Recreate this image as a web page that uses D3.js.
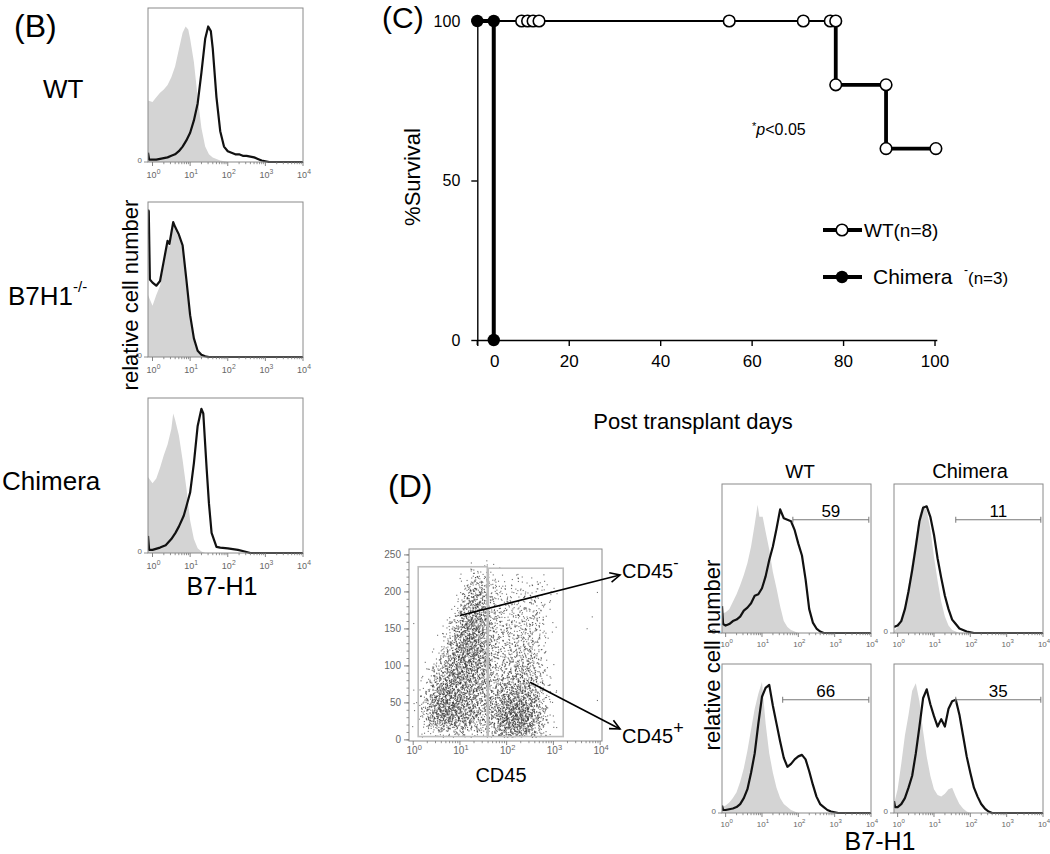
<!DOCTYPE html>
<html><head><meta charset="utf-8">
<script src="https://cdn.jsdelivr.net/npm/d3@7"></script>
<style>body{margin:0;background:#fff}svg{display:block}</style>
</head><body>
<svg id="c" width="1050" height="854"></svg>
<script>
// ================= DATA =================
// Panel B histograms: [log10 B7-H1 fluorescence, % of max count]
const bWtCtrl  = [[-0.12,40],[0,39],[0.1,42],[0.2,45],[0.3,47],[0.4,50],[0.5,55],[0.6,62],[0.7,73],[0.8,84],[0.88,88],[0.95,86],[1.0,80],[1.1,65],[1.2,42],[1.3,22],[1.4,10],[1.5,5],[1.6,3],[1.7,2],[1.8,1],[1.9,0.5],[2.0,0],[4.0,0]];
const bWtStain = [[-0.12,6],[-0.09,1.5],[0,1.5],[0.1,1.5],[0.2,2],[0.3,2.5],[0.4,3],[0.5,4],[0.6,5],[0.7,7],[0.8,10],[0.9,14],[1.0,19],[1.1,27],[1.2,38],[1.3,58],[1.4,80],[1.48,88],[1.55,85],[1.6,74],[1.7,42],[1.8,20],[1.9,10],[2.0,7],[2.1,6],[2.2,5],[2.3,5],[2.4,4],[2.5,4],[2.6,3.5],[2.7,3],[2.8,2],[2.9,1],[3.0,0.5],[3.1,0],[4.0,0]];
const bKoCtrl  = [[-0.12,40],[-0.05,36],[0,33],[0.1,40],[0.2,46],[0.3,60],[0.4,73],[0.45,71],[0.5,78],[0.55,85],[0.6,82],[0.7,77],[0.8,70],[0.9,48],[1.0,25],[1.1,10],[1.2,3],[1.3,1],[1.4,0],[4.0,0]];
const bKoStain = [[-0.12,95],[-0.1,94],[-0.07,50],[0,48],[0.1,46],[0.2,49],[0.3,62],[0.4,75],[0.45,73],[0.5,80],[0.55,87],[0.6,84],[0.7,79],[0.8,72],[0.9,50],[1.0,27],[1.1,12],[1.2,4],[1.3,1.5],[1.4,0.5],[1.5,0],[4.0,0]];
const bChCtrl  = [[-0.12,49],[0,45],[0.1,48],[0.2,55],[0.3,63],[0.4,70],[0.5,80],[0.55,90],[0.6,86],[0.7,76],[0.8,60],[0.9,42],[1.0,21],[1.1,9],[1.2,3],[1.3,1],[1.4,0],[4.0,0]];
const bChStain = [[-0.12,11],[-0.09,2],[0,2],[0.2,3.5],[0.35,5],[0.5,9],[0.61,13],[0.7,17],[0.83,24],[0.9,30],[1.0,39],[1.1,58],[1.2,82],[1.3,93],[1.35,90],[1.44,54],[1.5,32],[1.57,13],[1.7,4],[1.8,3.5],[2.0,3],[2.27,2],[2.45,1],[2.6,0],[4.0,0]];
const bRowLabels = ["WT", "B7H1", "Chimera"];

// Panel C: Kaplan-Meier survival (day, % survival)
const wtSteps      = [[0,100],[78.4,100],[78.4,80],[89.4,80],[89.4,60],[100.3,60]];
const wtMarks      = [[9.7,100],[11,100],[12.2,100],[13.5,100],[55.1,100],[71.3,100],[77.2,100],[78.4,100],[78.4,80],[89.4,80],[89.4,60],[100.3,60]];
const chimeraSteps = [[0,100],[3.6,100],[3.6,0]];
const chimeraMarks = [[0,100],[3.6,100],[3.6,0]];
const survXTicks = [0,20,40,60,80,100];
const survYTicks = [0,50,100];

// Panel D: CD45 vs SSC density (dots per cell), rows = SSC bins (top first), cols = log10 CD45 bins
const scatterCols = [0,0.2,0.4,0.6,0.8,1.0,1.2,1.4,1.6,1.8,2.0,2.2,2.4,2.6,2.8,3.0,3.2];
const scatterRows = [220,200,180,160,140,120,100,80,60,40,20,0];
const scatterDensity = [
 [0,0,0,0,0,0,2,2,1,0,0,0,0,0,0,0,0],
 [0,0,0,0,0,3,10,10,4,2,2,2,2,2,1,0,0],
 [0,0,0,0,0,8,18,16,6,4,3,4,4,3,1,0,0],
 [0,0,0,0,4,18,22,18,7,5,5,5,6,4,1,0,0],
 [0,0,0,2,10,22,24,18,8,6,6,6,7,4,1,0,0],
 [0,0,0,5,16,24,24,18,8,6,6,8,8,4,0,0,0],
 [0,0,3,12,20,24,22,18,8,7,8,10,10,4,0,0,0],
 [0,2,8,18,22,22,20,16,8,8,10,14,12,5,1,0,0],
 [0,5,16,22,22,20,18,14,10,14,16,18,14,7,2,0,0],
 [1,10,24,28,24,20,16,12,12,20,24,24,20,10,2,0,0],
 [1,10,22,26,24,20,16,12,14,26,30,30,24,12,2,0,0],
 [0,2,4,6,6,6,5,4,8,16,20,20,14,6,1,0,0]
];
const scatterOutliers = [[3.93,200],[3.82,167],[3.71,151],[3.93,54],[0.0,158],[0.0,68]];
const gateNeg = [0.107, 1.585, 4.5, 234];   // log x0, log x1, y0, y1
const gatePos = [1.606, 3.21, 4.5, 232];
const scatterYTicks = [0,50,100,150,200,250];

// Panel D histograms
const dWtNegCtrl  = [[-0.1,13],[0,14],[0.1,16],[0.2,21],[0.3,26],[0.4,32],[0.5,39],[0.6,47],[0.7,58],[0.8,73],[0.88,86],[0.93,78],[1.02,78],[1.1,68],[1.2,56],[1.3,41],[1.4,30],[1.5,18],[1.6,8],[1.7,4],[1.8,2],[1.9,1],[2.0,0],[4.0,0]];
const dWtNegStain = [[-0.1,18],[-0.07,6],[0,5],[0.1,6],[0.2,8],[0.3,9],[0.4,11],[0.5,15],[0.6,17],[0.7,20],[0.8,25],[0.9,26],[1.0,30],[1.1,38],[1.2,49],[1.3,58],[1.4,70],[1.5,83],[1.6,77],[1.7,76],[1.8,75],[1.9,69],[2.0,60],[2.1,52],[2.2,36],[2.3,16],[2.4,7],[2.5,3],[2.6,1],[2.7,0],[4.0,0]];
const dChNegCtrl  = [[-0.1,1],[0,4],[0.1,9],[0.2,18],[0.3,32],[0.4,48],[0.5,64],[0.6,79],[0.7,86],[0.8,82],[0.9,70],[1.0,51],[1.1,35],[1.2,21],[1.3,11],[1.4,5],[1.5,2],[1.6,1],[1.7,0],[4.0,0]];
const dChNegStain = [[-0.1,4],[0,5],[0.1,8],[0.2,16],[0.3,28],[0.4,42],[0.5,58],[0.6,75],[0.7,84],[0.8,85],[0.9,78],[1.0,66],[1.1,50],[1.2,37],[1.3,25],[1.4,16],[1.5,9],[1.6,6],[1.7,3],[1.8,2],[1.9,1],[2.0,0.5],[2.1,0],[4.0,0]];
const dWtPosCtrl  = [[-0.1,4],[0,5],[0.1,7],[0.2,10],[0.3,14],[0.4,21],[0.5,30],[0.6,42],[0.7,56],[0.8,70],[0.9,80],[1.0,88],[1.1,60],[1.2,40],[1.3,27],[1.4,17],[1.5,10],[1.6,6],[1.7,4],[1.8,2],[1.9,1],[2.0,0],[4.0,0]];
const dWtPosStain = [[-0.1,5],[-0.07,2],[0,2],[0.1,2.5],[0.2,3],[0.3,4],[0.4,6],[0.5,10],[0.6,16],[0.7,27],[0.8,40],[0.9,60],[1.0,78],[1.1,84],[1.2,86],[1.3,72],[1.4,60],[1.5,48],[1.6,37],[1.7,31],[1.8,33],[1.9,36],[2.0,38],[2.1,39],[2.2,36],[2.3,28],[2.4,19],[2.5,11],[2.6,6],[2.7,4],[2.8,2],[2.9,1],[3.0,0.5],[3.1,0],[4.0,0]];
const dChPosCtrl  = [[-0.1,6],[0,16],[0.1,33],[0.2,52],[0.3,66],[0.4,82],[0.5,87],[0.6,75],[0.7,55],[0.8,38],[0.9,25],[1.0,16],[1.1,12],[1.2,11],[1.3,13],[1.4,16],[1.5,17],[1.6,11],[1.7,6],[1.8,3],[1.9,1],[2.0,0],[4.0,0]];
const dChPosStain = [[-0.1,8],[-0.07,4],[0,4],[0.1,6],[0.2,10],[0.3,17],[0.4,25],[0.5,40],[0.6,58],[0.7,77],[0.8,83],[0.9,73],[1.0,65],[1.1,58],[1.2,63],[1.3,58],[1.4,70],[1.5,75],[1.6,76],[1.7,66],[1.8,52],[1.9,38],[2.0,27],[2.1,17],[2.2,11],[2.3,6],[2.4,3],[2.5,1],[2.6,0],[4.0,0]];
const dGateStart = [1.85, 1.60, 1.57, 1.60];
const dGateEnd   = [3.94, 3.94, 3.94, 3.94];
const dGateLevel = [76, 76, 76, 76];
const dGatePct   = ["59", "11", "66", "35"];
const dColTitles = ["WT", "Chimera"];

const decades = [0,1,2,3,4];
const minorFactors = [2,3,4,5,6,7,8,9];

// ================= DRAWING =================
const FONT = "'Liberation Sans', Arial, Helvetica, sans-serif";
const svg = d3.select("#c").attr("font-family", FONT);
const AX = "#777";

function text(g, x, y, s, size, anchor, extra) {
  const t = g.append("text").attr("x", x).attr("y", y).attr("font-size", size)
    .attr("text-anchor", anchor || "start").attr("fill", "#000").text(s);
  if (extra) extra(t);
  return t;
}

function logAxis(g, x, yBase, fs, labelDy, xmin, xmax) {
  const minors = [];
  decades.slice(0, -1).forEach(d => minorFactors.forEach(k => minors.push(d + Math.log10(k))));
  g.selectAll(null).data(minors.filter(v => v >= xmin && v <= xmax)).join("line")
    .attr("x1", d => x(d)).attr("x2", d => x(d)).attr("y1", yBase).attr("y2", yBase + 2.2)
    .attr("stroke", AX).attr("stroke-width", 0.8);
  g.selectAll(null).data(decades).join("line")
    .attr("x1", d => x(d)).attr("x2", d => x(d)).attr("y1", yBase).attr("y2", yBase + 4)
    .attr("stroke", AX).attr("stroke-width", 0.9);
  const lab = g.selectAll(null).data(decades).join("text")
    .attr("x", d => x(d) + 1).attr("y", yBase + labelDy).attr("font-size", fs)
    .attr("text-anchor", "middle").attr("fill", "#666");
  lab.append("tspan").text("10");
  lab.append("tspan").attr("dy", -fs * 0.45).attr("font-size", fs * 0.75).text(d => d);
}

function histogram(frame, ctrl, stain, domain) {
  const g = svg.append("g");
  const x = d3.scaleLinear().domain(domain).range([frame.x0, frame.x1]);
  const y = d3.scaleLinear().domain([0, 100]).range([frame.y1, frame.y0]);
  const clipId = "clip" + Math.round(frame.x0) + "_" + Math.round(frame.y0);
  svg.append("clipPath").attr("id", clipId).append("rect")
    .attr("x", frame.x0).attr("y", frame.y0 - 2).attr("width", frame.x1 - frame.x0).attr("height", frame.y1 - frame.y0 + 3);
  const inner = g.append("g").attr("clip-path", `url(#${clipId})`);
  inner.append("path").attr("d", d3.area().x(d => x(d[0])).y0(y(0)).y1(d => y(d[1]))(ctrl))
    .attr("fill", "#d4d4d4");
  inner.append("path").attr("d", d3.line().x(d => x(d[0])).y(d => y(d[1]))(stain))
    .attr("fill", "none").attr("stroke", "#111").attr("stroke-width", 2.2).attr("stroke-linejoin", "round");
  g.append("rect").attr("x", frame.x0).attr("y", frame.y0).attr("width", frame.x1 - frame.x0)
    .attr("height", frame.y1 - frame.y0).attr("fill", "none").attr("stroke", "#8a8a8a").attr("stroke-width", 1);
  g.append("text").attr("x", frame.x0 - 6).attr("y", frame.y1 + 1).attr("font-size", 8)
    .attr("text-anchor", "end").attr("fill", "#666").text("0");
  g.append("line").attr("x1", frame.x0 - 4).attr("x2", frame.x0).attr("y1", frame.y1).attr("y2", frame.y1)
    .attr("stroke", AX).attr("stroke-width", 0.8);
  logAxis(g, x, frame.y1, frame.fs, frame.ldy, domain[0], domain[1]);
  return { g, x, y };
}

// ---------- Panel B ----------
text(svg, 14, 37, "(B)", 32);
const bFrames = [
  { x0: 148, x1: 303, y0: 8, y1: 162, fs: 9, ldy: 16 },
  { x0: 148, x1: 303, y0: 202, y1: 357, fs: 9, ldy: 16 },
  { x0: 148, x1: 303, y0: 398, y1: 553, fs: 9, ldy: 16 }
];
const bData = [[bWtCtrl, bWtStain], [bKoCtrl, bKoStain], [bChCtrl, bChStain]];
bFrames.forEach((f, i) => histogram(f, bData[i][0], bData[i][1], [-0.12, 4.0]));
text(svg, 43, 98, bRowLabels[0], 26);
text(svg, 8, 305, bRowLabels[1], 26, "start", t => t.append("tspan").attr("dy", -13).attr("font-size", 15).text("-/-"));
text(svg, 2, 490, bRowLabels[2], 26);
svg.append("text").attr("transform", "translate(138,295) rotate(-90)").attr("text-anchor", "middle")
  .attr("font-size", 22).text("relative cell number");
text(svg, 222, 595, "B7-H1", 25, "middle");

// ---------- Panel C ----------
text(svg, 382, 28, "(C)", 30);
const gC = svg.append("g");
const xC = d3.scaleLinear().domain([0, 100.5]).range([477.3, 936.8]);
const yC = d3.scaleLinear().domain([0, 100]).range([340, 21]);
const xAx = gC.append("g").attr("transform", "translate(0,340)")
  .call(d3.axisBottom(xC).tickValues(survXTicks).tickSize(6).tickSizeOuter(0).tickPadding(9));
xAx.attr("font-family", FONT).attr("font-size", 17);
xAx.selectAll("text").attr("fill", "#000");
xAx.selectAll(".tick").filter(d => d === 0).select("text").attr("dx", 17);
const yAx = gC.append("g").attr("transform", `translate(${xC(0)},0)`)
  .call(d3.axisLeft(yC).tickValues(survYTicks).tickSize(6).tickSizeOuter(0).tickPadding(11));
yAx.attr("font-family", FONT).attr("font-size", 16);
yAx.selectAll("text").attr("fill", "#000");
gC.selectAll(".domain, .tick line").attr("stroke", "#000").attr("stroke-width", 1.4);
gC.append("line").attr("x1", xC(0)).attr("x2", xC(0)).attr("y1", 340).attr("y2", 345).attr("stroke", "#000").attr("stroke-width", 1.4);

const lineC = d3.line().x(d => xC(d[0])).y(d => yC(d[1]));
gC.append("path").attr("d", lineC(chimeraSteps)).attr("fill", "none").attr("stroke", "#000").attr("stroke-width", 4);
const wtTop = wtSteps.filter(d => d[1] === 100);
const wtRest = wtSteps.slice(wtTop.length - 1);
gC.append("path").attr("d", lineC(wtTop)).attr("fill", "none").attr("stroke", "#000").attr("stroke-width", 2.2);
gC.append("path").attr("d", lineC(wtRest)).attr("fill", "none").attr("stroke", "#000").attr("stroke-width", 3.8);
gC.selectAll(null).data(chimeraMarks).join("circle")
  .attr("cx", d => xC(d[0])).attr("cy", d => yC(d[1])).attr("r", 6.2).attr("fill", "#000");
gC.selectAll(null).data(wtMarks).join("circle")
  .attr("cx", d => xC(d[0])).attr("cy", d => yC(d[1])).attr("r", 5.8)
  .attr("fill", "#fff").attr("stroke", "#000").attr("stroke-width", 1.6);

svg.append("text").attr("transform", "translate(420,177) rotate(-90)").attr("text-anchor", "middle")
  .attr("font-size", 22).text("%Survival");
text(svg, 693, 429, "Post transplant days", 22, "middle");
text(svg, 752, 135, "", 16, "start", t => {
  t.append("tspan").attr("font-size", 11).attr("dy", -5).text("*");
  t.append("tspan").attr("font-style", "italic").attr("dy", 5).text("p");
  t.append("tspan").text("<0.05");
});
// legend
const lg = svg.append("g");
lg.append("line").attr("x1", 823).attr("x2", 862).attr("y1", 230).attr("y2", 230).attr("stroke", "#000").attr("stroke-width", 4);
lg.append("circle").attr("cx", 842).attr("cy", 230).attr("r", 5.8).attr("fill", "#fff").attr("stroke", "#000").attr("stroke-width", 1.6);
text(lg, 864, 237, "WT(n=8)", 19);
lg.append("line").attr("x1", 823).attr("x2", 862).attr("y1", 277).attr("y2", 277).attr("stroke", "#000").attr("stroke-width", 4);
lg.append("circle").attr("cx", 842).attr("cy", 277).attr("r", 6.2).attr("fill", "#000");
text(lg, 873, 284, "Chimera", 21);
text(lg, 964, 284, "", 17, "start", t => {
  t.append("tspan").attr("dy", -10).attr("font-size", 12).text("-");
  t.append("tspan").attr("dy", 10).text("(n=3)");
});

// ---------- Panel D scatter ----------
text(svg, 388, 497, "(D)", 32);
const sF = { x0: 409, x1: 602, y0: 549, y1: 741 };
const xS = d3.scaleLinear().domain([-0.09, 4.04]).range([sF.x0, sF.x1]);
const yS = d3.scaleLinear().domain([-1.5, 258]).range([sF.y1, sF.y0]);
const gS = svg.append("g");
svg.append("clipPath").attr("id", "sclip").append("rect").attr("x", sF.x0).attr("y", sF.y0)
  .attr("width", sF.x1 - sF.x0).attr("height", sF.y1 - sF.y0);
const binW = scatterCols[1] - scatterCols[0];
const binH = scatterRows[0] - scatterRows[1];
// deterministic low-discrepancy placement of each cell's dots (rendering only)
function halton(i, b) { let f = 1, r = 0; while (i > 0) { f /= b; r += f * (i % b); i = Math.floor(i / b); } return r; }
const dots = [];
const dotsPerUnit = 4;
let seq = 1;
scatterDensity.forEach((row, ri) => row.forEach((n, ci) => {
  const m = n * dotsPerUnit;
  for (let i = 0; i < m; i++, seq++) {
    const u = halton(seq, 2) + halton(seq, 5) - 0.5;
    const v = halton(seq, 3) + halton(seq, 7) - 0.5;
    const lx = scatterCols[ci] + u * binW, vy = scatterRows[ri] + v * binH;
    if (vy > 4) dots.push([lx, vy]);
  }
}));
scatterOutliers.forEach(d => dots.push(d));
gS.append("g").attr("clip-path", "url(#sclip)").selectAll(null).data(dots).join("rect")
  .attr("x", d => xS(d[0])).attr("y", d => yS(d[1])).attr("width", 1.1).attr("height", 1.1)
  .attr("fill", "#333").attr("fill-opacity", 0.7);
[gateNeg, gatePos].forEach(gt => gS.append("rect")
  .attr("x", xS(gt[0])).attr("y", yS(gt[3])).attr("width", xS(gt[1]) - xS(gt[0])).attr("height", yS(gt[2]) - yS(gt[3]))
  .attr("fill", "none").attr("stroke", "#bdbdbd").attr("stroke-width", 1.6));
gS.append("rect").attr("x", sF.x0).attr("y", sF.y0).attr("width", sF.x1 - sF.x0).attr("height", sF.y1 - sF.y0)
  .attr("fill", "none").attr("stroke", "#8a8a8a");
// y axis (SSC)
const yMinor = d3.range(0, 251, 10);
gS.selectAll(null).data(yMinor).join("line").attr("x1", sF.x0 - 2.5).attr("x2", sF.x0)
  .attr("y1", d => yS(d)).attr("y2", d => yS(d)).attr("stroke", AX).attr("stroke-width", 0.8);
gS.selectAll(null).data(scatterYTicks).join("line").attr("x1", sF.x0 - 5).attr("x2", sF.x0)
  .attr("y1", d => yS(d)).attr("y2", d => yS(d)).attr("stroke", AX).attr("stroke-width", 0.9);
gS.selectAll(null).data(scatterYTicks).join("text").attr("x", sF.x0 - 8).attr("y", d => yS(d) + 3.5)
  .attr("text-anchor", "end").attr("font-size", 10).attr("fill", "#666").text(d => d);
logAxis(gS, xS, sF.y1, 10, 13, -0.09, 4.04);
text(svg, 501, 782, "CD45", 20, "middle");

// arrows
function arrow(x1, y1, x2, y2) {
  const a = Math.atan2(y2 - y1, x2 - x1), L = 11, w = 0.45;
  svg.append("line").attr("x1", x1).attr("y1", y1).attr("x2", x2).attr("y2", y2).attr("stroke", "#000").attr("stroke-width", 1.6);
  svg.append("path").attr("d", `M${x2 - L * Math.cos(a - w)},${y2 - L * Math.sin(a - w)}L${x2},${y2}L${x2 - L * Math.cos(a + w)},${y2 - L * Math.sin(a + w)}`)
    .attr("fill", "none").attr("stroke", "#000").attr("stroke-width", 1.6);
}
arrow(xS(1.0), yS(168), 620, 575);
arrow(xS(2.5), yS(78), 620, 729);
text(svg, 622, 578, "CD45", 20, "start", t => t.append("tspan").attr("dy", -10).attr("font-size", 16).text("-"));
text(svg, 622, 743, "CD45", 20, "start", t => t.append("tspan").attr("dy", -9).attr("font-size", 18).text("+"));

// ---------- Panel D histograms ----------
const dFrames = [
  { x0: 722, x1: 871, y0: 484, y1: 633, fs: 8, ldy: 14 },
  { x0: 894, x1: 1043, y0: 484, y1: 633, fs: 8, ldy: 14 },
  { x0: 722, x1: 871, y0: 664, y1: 813, fs: 8, ldy: 14 },
  { x0: 894, x1: 1043, y0: 664, y1: 813, fs: 8, ldy: 14 }
];
const dData = [[dWtNegCtrl, dWtNegStain], [dChNegCtrl, dChNegStain], [dWtPosCtrl, dWtPosStain], [dChPosCtrl, dChPosStain]];
dFrames.forEach((f, i) => {
  const h = histogram(f, dData[i][0], dData[i][1], [-0.1, 4.0]);
  const gy = h.y(dGateLevel[i]);
  const gx0 = h.x(dGateStart[i]), gx1 = h.x(dGateEnd[i]);
  h.g.append("line").attr("x1", gx0).attr("x2", gx1).attr("y1", gy).attr("y2", gy).attr("stroke", "#777").attr("stroke-width", 1);
  [gx0, gx1].forEach(xx => h.g.append("line").attr("x1", xx).attr("x2", xx).attr("y1", gy - 3).attr("y2", gy + 3).attr("stroke", "#777").attr("stroke-width", 1));
  text(h.g, (gx0 + gx1) / 2, gy - 3, dGatePct[i], 17, "middle");
});
text(svg, 800, 478, dColTitles[0], 19, "middle");
text(svg, 970, 478, dColTitles[1], 20, "middle");
svg.append("text").attr("transform", "translate(720,655) rotate(-90)").attr("text-anchor", "middle")
  .attr("font-size", 22).text("relative cell number");
text(svg, 880, 850, "B7-H1", 25, "middle");
</script>
</body></html>
